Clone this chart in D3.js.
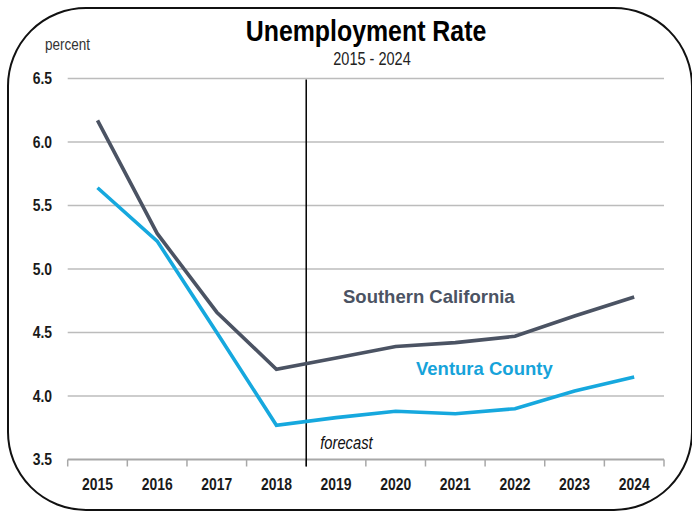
<!DOCTYPE html>
<html>
<head>
<meta charset="utf-8">
<script src="https://cdn.jsdelivr.net/npm/d3@7"></script>
<style>
  html, body { margin: 0; padding: 0; background: #fff; }
  svg { display: block; }
</style>
</head>
<body>
<svg id="chart" width="692" height="512"></svg>
<script>
// Annual unemployment rate, percent (2019 onward is forecast)
const years = ["2015","2016","2017","2018","2019","2020","2021","2022","2023","2024"];
const southernCalifornia = [6.17, 5.28, 4.66, 4.21, 4.30, 4.39, 4.42, 4.47, 4.63, 4.78];
const venturaCounty      = [5.64, 5.22, 4.50, 3.77, 3.83, 3.88, 3.86, 3.90, 4.04, 4.15];
const yTicks = [3.5, 4.0, 4.5, 5.0, 5.5, 6.0, 6.5];
const forecastStart = "2019";

const sans = "'Liberation Sans', Arial, Helvetica, sans-serif";
const condense = 0.82; // horizontal squeeze for the narrow-style labels

const svg = d3.select("#chart");

const x = d3.scaleBand().domain(years).range([67.7, 664]).paddingInner(0).paddingOuter(0);
const y = d3.scaleLinear().domain([3.5, 6.5]).range([459.5, 78.5]);
const cx = d => x(d) + x.bandwidth() / 2;

// text placed at (px, py) and squeezed horizontally around its anchor
function narrowText(parent, px, py, str, opts) {
  const g = parent.append("g")
    .attr("transform", `translate(${px},${py}) scale(${opts.sx || condense},1)`);
  const t = g.append("text")
    .attr("x", 0).attr("y", 0)
    .attr("text-anchor", opts.anchor || "start")
    .attr("font-family", sans)
    .attr("font-size", opts.size)
    .attr("font-weight", opts.weight || "normal")
    .attr("font-style", opts.style || "normal")
    .attr("fill", opts.fill || "#000")
    .text(str);
  if (opts.dy) t.attr("dy", opts.dy);
  return t;
}

// rounded frame
svg.append("rect")
  .attr("x", 8).attr("y", 8)
  .attr("width", 684).attr("height", 502)
  .attr("rx", 78).attr("ry", 78)
  .attr("fill", "none")
  .attr("stroke", "#111")
  .attr("stroke-width", 2);

// title block
narrowText(svg, 366, 41, "Unemployment Rate", {anchor: "middle", size: 30, weight: "bold", sx: 0.83});
narrowText(svg, 372, 65, "2015 - 2024", {anchor: "middle", size: 17.5, fill: "#222", sx: 0.83});
narrowText(svg, 45, 50, "percent", {size: 16.5, fill: "#333"});

// horizontal gridlines
svg.append("g")
  .selectAll("line")
  .data(yTicks.filter(t => t > 3.5))
  .join("line")
  .attr("x1", x.range()[0]).attr("x2", x.range()[1])
  .attr("y1", d => y(d)).attr("y2", d => y(d))
  .attr("stroke", "#bcbcbc")
  .attr("stroke-width", 1.6);

// y tick labels
const yLabels = svg.append("g");
yTicks.forEach(t => {
  narrowText(yLabels, 52, y(t), t.toFixed(1),
    {anchor: "end", size: 17, weight: "bold", fill: "#1a1a1a", dy: "0.35em"});
});

// x axis baseline and category boundary ticks
const xAxis = svg.append("g");
xAxis.append("line")
  .attr("x1", x.range()[0]).attr("x2", x.range()[1])
  .attr("y1", y(3.5)).attr("y2", y(3.5))
  .attr("stroke", "#a8a8a8")
  .attr("stroke-width", 1.8);
const boundaries = years.map(d => x(d)).concat([x.range()[1]]);
xAxis.selectAll("line.tick")
  .data(boundaries)
  .join("line")
  .attr("class", "tick")
  .attr("x1", d => d).attr("x2", d => d)
  .attr("y1", y(3.5)).attr("y2", y(3.5) + 7)
  .attr("stroke", "#a8a8a8")
  .attr("stroke-width", 1.5);
years.forEach(d => {
  narrowText(xAxis, cx(d), 490, d, {anchor: "middle", size: 17, weight: "bold", fill: "#1a1a1a"});
});

// forecast divider
svg.append("line")
  .attr("x1", x(forecastStart)).attr("x2", x(forecastStart))
  .attr("y1", y(6.5) + 1).attr("y2", y(3.5) + 7)
  .attr("stroke", "#000")
  .attr("stroke-width", 1.5);

narrowText(svg, x(forecastStart) + 14, 449, "forecast", {size: 18, style: "italic", fill: "#111"});

// series lines
const line = d3.line().x((d, i) => cx(years[i])).y(d => y(d));

svg.append("path")
  .datum(southernCalifornia)
  .attr("d", line)
  .attr("fill", "none")
  .attr("stroke", "#4b5363")
  .attr("stroke-width", 3.6)
  .attr("stroke-linejoin", "miter");

svg.append("path")
  .datum(venturaCounty)
  .attr("d", line)
  .attr("fill", "none")
  .attr("stroke", "#16a8de")
  .attr("stroke-width", 3.6)
  .attr("stroke-linejoin", "miter");

// series labels
svg.append("text")
  .attr("x", 343).attr("y", 303)
  .attr("font-family", sans)
  .attr("font-weight", "bold")
  .attr("font-size", 18.5)
  .attr("fill", "#4b5363")
  .text("Southern California");

svg.append("text")
  .attr("x", 416).attr("y", 375)
  .attr("font-family", sans)
  .attr("font-weight", "bold")
  .attr("font-size", 18.5)
  .attr("fill", "#16a3da")
  .text("Ventura County");
</script>
</body>
</html>
